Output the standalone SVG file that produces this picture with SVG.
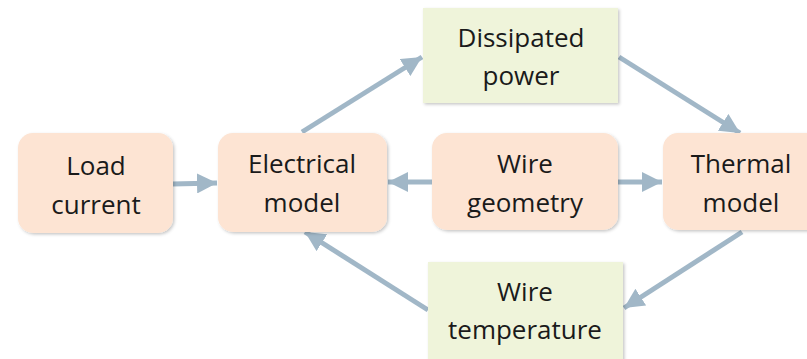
<svg xmlns="http://www.w3.org/2000/svg" width="807" height="359" viewBox="0 0 807 359">
<style>
.pk{fill:#fde4d3;}
.gr{fill:#eff4da;}
.t{font-family:"Open Sans","Noto Sans",sans-serif;font-size:26px;fill:#1a1a1a;text-anchor:middle;}
.c{stroke:#a1b7c7;stroke-width:5;fill:none;}
</style>
<defs>
<filter id="sh" x="-10%" y="-10%" width="130%" height="130%">
<feDropShadow dx="1.5" dy="1.5" stdDeviation="1.5" flood-color="#000" flood-opacity="0.22"/>
</filter>
<marker id="ah" viewBox="0 0 10 10" refX="10" refY="5" markerWidth="4" markerHeight="4" markerUnits="strokeWidth" orient="auto">
<path d="M0,0 L10,5 L0,10 z" fill="#a1b7c7"/>
</marker>
</defs>
<g id="connectors">
<line class="c" x1="172" y1="184" x2="217" y2="183" marker-end="url(#ah)"/>
<line class="c" x1="432" y1="182" x2="388" y2="182" marker-end="url(#ah)"/>
<line class="c" x1="618" y1="182" x2="662" y2="182" marker-end="url(#ah)"/>
<line class="c" x1="302" y1="132" x2="422" y2="57" marker-end="url(#ah)"/>
<line class="c" x1="619" y1="57" x2="740" y2="133" marker-end="url(#ah)"/>
<line class="c" x1="742" y1="232" x2="624" y2="308" marker-end="url(#ah)"/>
<line class="c" x1="428" y1="310" x2="305" y2="232" marker-end="url(#ah)"/>
</g>
<g id="load-current">
<rect class="pk" x="18" y="133" width="155" height="100" rx="15" filter="url(#sh)"/>
<text class="t" x="96" y="175">Load</text>
<text class="t" x="96" y="214">current</text>
</g>
<g id="electrical-model">
<rect class="pk" x="218" y="133" width="169" height="99" rx="15" filter="url(#sh)"/>
<text class="t" x="302" y="173">Electrical</text>
<text class="t" x="302" y="212">model</text>
</g>
<g id="wire-geometry">
<rect class="pk" x="432" y="133" width="186" height="97" rx="15" filter="url(#sh)"/>
<text class="t" x="525" y="173">Wire</text>
<text class="t" x="525" y="212">geometry</text>
</g>
<g id="thermal-model">
<rect class="pk" x="663" y="133" width="160" height="97" rx="15" filter="url(#sh)"/>
<text class="t" x="741" y="173">Thermal</text>
<text class="t" x="741" y="212">model</text>
</g>
<g id="dissipated-power">
<rect class="gr" x="423" y="8" width="195" height="95" filter="url(#sh)"/>
<text class="t" x="521" y="47">Dissipated</text>
<text class="t" x="521" y="85">power</text>
</g>
<g id="wire-temperature">
<rect class="gr" x="428" y="262" width="195" height="100" filter="url(#sh)"/>
<text class="t" x="525" y="301">Wire</text>
<text class="t" x="525" y="339">temperature</text>
</g>
</svg>
